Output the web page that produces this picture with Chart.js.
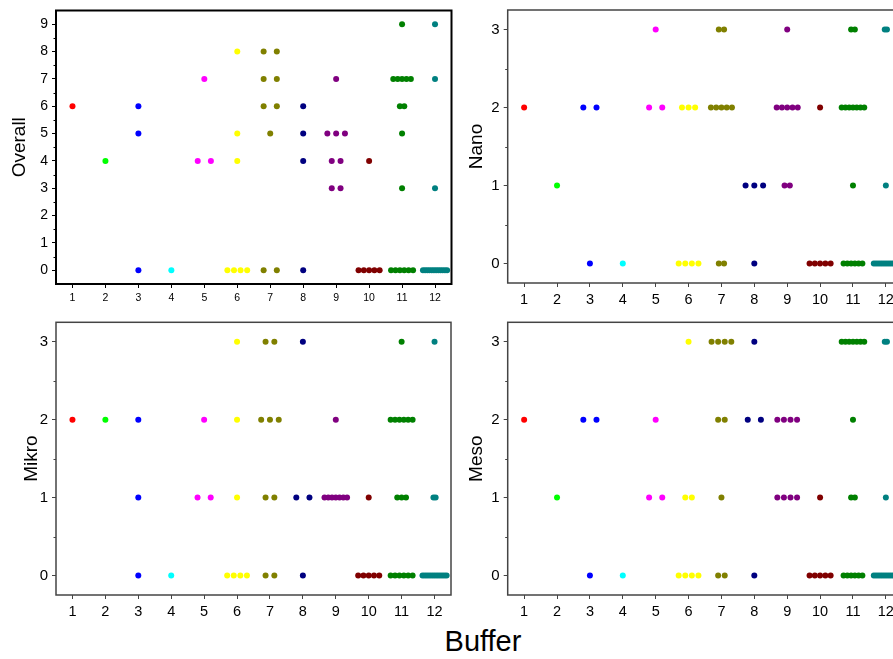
<!DOCTYPE html>
<html><head><meta charset="utf-8">
<script src="https://cdn.jsdelivr.net/npm/chart.js@4.4.1/dist/chart.umd.min.js"></script>
<style>
html,body{margin:0;padding:0;background:#fff;width:893px;height:659px;overflow:hidden;position:relative;font-family:"Liberation Sans",Arial,sans-serif;}
.panel{position:absolute;}
#xtitle{position:absolute;left:383px;width:200px;top:627px;text-align:center;font-size:29px;line-height:1;color:#000;white-space:nowrap;}
</style></head>
<body>
<div class="panel" style="left:0;top:0;width:460px;height:305px"><canvas id="c1"></canvas></div>
<div class="panel" style="left:460px;top:0;width:460px;height:305px"><canvas id="c2"></canvas></div>
<div class="panel" style="left:0;top:310px;width:460px;height:310px"><canvas id="c3"></canvas></div>
<div class="panel" style="left:460px;top:310px;width:460px;height:310px"><canvas id="c4"></canvas></div>
<div id="xtitle">Buffer</div>
<script>
// ---- data ----
const categories = [1, 2, 3, 4, 5, 6, 7, 8, 9, 10, 11, 12];
const categoryColors = ['#FF0000', '#00FF00', '#0000FF', '#00FFFF', '#FF00FF', '#FFFF00',
                        '#808000', '#000080', '#800080', '#800000', '#008000', '#008080'];
const overallValues = [
  [6],
  [4],
  [6, 5, 0],
  [0],
  [7, 4, 4],
  [8, 5, 4, 0, 0, 0, 0],
  [8, 8, 7, 7, 6, 6, 5, 0, 0],
  [6, 5, 4, 0],
  [7, 5, 5, 5, 4, 4, 3, 3],
  [4, 0, 0, 0, 0, 0],
  [9, 7, 7, 7, 7, 7, 6, 6, 5, 3, 0, 0, 0, 0, 0, 0],
  [9, 7, 3, 0, 0, 0, 0, 0, 0, 0, 0, 0, 0, 0, 0]
];
const nanoValues = [
  [2],
  [1],
  [2, 2, 0],
  [0],
  [3, 2, 2],
  [2, 2, 2, 0, 0, 0, 0],
  [3, 3, 2, 2, 2, 2, 2, 0, 0],
  [1, 1, 1, 0],
  [3, 2, 2, 2, 2, 2, 1, 1],
  [2, 0, 0, 0, 0, 0],
  [3, 3, 2, 2, 2, 2, 2, 2, 2, 1, 0, 0, 0, 0, 0, 0],
  [3, 3, 1, 0, 0, 0, 0, 0, 0, 0, 0, 0, 0, 0, 0]
];
const mikroValues = [
  [2],
  [2],
  [2, 1, 0],
  [0],
  [2, 1, 1],
  [3, 2, 1, 0, 0, 0, 0],
  [3, 3, 2, 2, 2, 1, 1, 0, 0],
  [3, 1, 1, 0],
  [2, 1, 1, 1, 1, 1, 1, 1],
  [1, 0, 0, 0, 0, 0],
  [3, 2, 2, 2, 2, 2, 2, 1, 1, 1, 0, 0, 0, 0, 0, 0],
  [3, 1, 1, 0, 0, 0, 0, 0, 0, 0, 0, 0, 0, 0, 0]
];
const mesoValues = [
  [2],
  [1],
  [2, 2, 0],
  [0],
  [2, 1, 1],
  [3, 1, 1, 0, 0, 0, 0],
  [3, 3, 3, 3, 2, 2, 1, 0, 0],
  [3, 2, 2, 0],
  [2, 2, 2, 2, 1, 1, 1, 1],
  [1, 0, 0, 0, 0, 0],
  [3, 3, 3, 3, 3, 3, 3, 2, 1, 1, 0, 0, 0, 0, 0, 0],
  [3, 3, 1, 0, 0, 0, 0, 0, 0, 0, 0, 0, 0, 0, 0]
];
const overallTicks = [0, 1, 2, 3, 4, 5, 6, 7, 8, 9];
const levelTicks = [0, 1, 2, 3];

// column-scatter layout: points with equal value are spread side by side around the category
function spread(values, c) {
  const counts = {};
  values.forEach(v => counts[v] = (counts[v] || 0) + 1);
  const maxCount = Math.max(...Object.values(counts));
  const step = 0.8 / maxCount;
  const seen = {};
  return values.map(v => {
    const i = seen[v] = (seen[v] === undefined ? 0 : seen[v] + 1);
    return { x: c + (i - (counts[v] - 1) / 2) * step, y: v };
  });
}

const framePlugin = {
  id: 'frame',
  afterDraw(chart, args, opts) {
    const { ctx, chartArea: a, scales } = chart;
    ctx.save();
    ctx.strokeStyle = opts.color;
    ctx.lineWidth = opts.width;
    ctx.strokeRect(a.left, a.top, a.right - a.left, a.bottom - a.top);
    const y = scales.y;
    ctx.lineWidth = 1;
    for (let v = Math.ceil(y.min) - 0.5; v < y.max; v += 1) {
      if (v <= y.min) continue;
      const py = Math.round(y.getPixelForValue(v)) + 0.5;
      ctx.beginPath();
      ctx.moveTo(a.left, py);
      ctx.lineTo(a.left - opts.minorLen, py);
      ctx.stroke();
    }
    ctx.restore();
  }
};

function makePanel(id, values, title, cfg) {
  const datasets = categories.map((c, k) => ({
    data: spread(values[k], c),
    backgroundColor: categoryColors[k],
    borderColor: categoryColors[k],
    borderWidth: 0,
    pointStyle: 'circle',
    pointRadius: 3,
    pointHoverRadius: 3
  }));
  new Chart(document.getElementById(id), {
    type: 'scatter',
    data: { datasets },
    options: {
      responsive: true,
      maintainAspectRatio: false,
      animation: false,
      events: [],
      layout: { padding: { top: cfg.padTop, right: cfg.padRight, left: 0, bottom: 0 } },
      plugins: {
        legend: { display: false },
        tooltip: { enabled: false },
        frame: { color: cfg.frameColor, width: cfg.frameWidth, minorLen: 2.5 }
      },
      scales: {
        x: {
          type: 'linear',
          min: 0.5, max: 12.5,
          afterBuildTicks: s => { s.ticks = categories.map(v => ({ value: v })); },
          afterFit: s => { s.height = cfg.xHeight; s.paddingLeft = 0; s.paddingRight = 0; },
          border: { display: false },
          grid: { display: true, drawOnChartArea: false, drawTicks: true, tickLength: 4, tickColor: cfg.frameColor, tickWidth: 1 },
          ticks: { color: '#000', padding: 4, maxRotation: 0, autoSkip: false,
                   font: { family: 'Liberation Sans', size: cfg.xFont } }
        },
        y: {
          type: 'linear',
          min: cfg.yMin, max: cfg.yMax,
          afterBuildTicks: s => { s.ticks = cfg.yTicks.map(v => ({ value: v })); },
          afterFit: s => { s.width = cfg.yWidth; s.paddingTop = 0; s.paddingBottom = 0; },
          border: { display: false },
          grid: { display: true, drawOnChartArea: false, drawTicks: true, tickLength: 4, tickColor: cfg.frameColor, tickWidth: 1 },
          ticks: { color: '#000', padding: 4, autoSkip: false,
                   font: { family: 'Liberation Sans', size: cfg.yFont } },
          title: { display: true, text: title, color: '#000', padding: { top: cfg.titlePad, bottom: 0 },
                   font: { family: 'Liberation Sans', size: 19 } }
        }
      }
    },
    plugins: [framePlugin]
  });
}

makePanel('c1', overallValues, 'Overall', {
  padTop: 10.5, padRight: 8.5, xHeight: 21, yWidth: 56, yMin: -0.5, yMax: 9.5, yTicks: overallTicks,
  xFont: 10.5, yFont: 14, titlePad: 8.5, frameColor: '#000', frameWidth: 2
});
makePanel('c2', nanoValues, 'Nano', {
  padTop: 10, padRight: 17.7, xHeight: 22, yWidth: 47.7, yMin: -0.25, yMax: 3.25, yTicks: levelTicks,
  xFont: 14.5, yFont: 15, titlePad: 5.6, frameColor: '#444', frameWidth: 1.5
});
makePanel('c3', mikroValues, 'Mikro', {
  padTop: 12.3, padRight: 9, xHeight: 25, yWidth: 56, yMin: -0.25, yMax: 3.25, yTicks: levelTicks,
  xFont: 14.5, yFont: 15, titlePad: 20.6, frameColor: '#444', frameWidth: 1.5
});
makePanel('c4', mesoValues, 'Meso', {
  padTop: 12.3, padRight: 17.7, xHeight: 25, yWidth: 47.7, yMin: -0.25, yMax: 3.25, yTicks: levelTicks,
  xFont: 14.5, yFont: 15, titlePad: 5.6, frameColor: '#444', frameWidth: 1.5
});
</script>
</body></html>
